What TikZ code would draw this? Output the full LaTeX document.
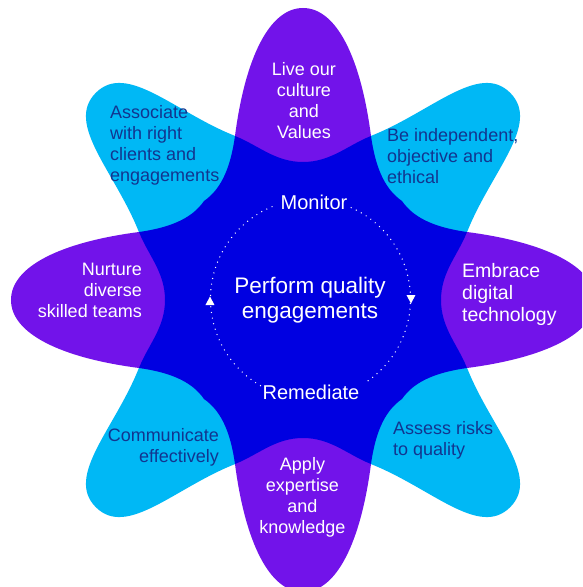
\documentclass[tikz,border=0pt]{standalone}
\usepackage{fontspec}
\setmainfont{Liberation Sans}
\definecolor{pviolet}{HTML}{7213EA}
\definecolor{pblue}{HTML}{00B8F5}
\definecolor{pdark}{HTML}{0000E1}
\definecolor{pnavy}{HTML}{12358F}
\newcommand\violetoutline{(-68,164) .. controls (-58,241) and (-34,292) .. (0,292) .. controls (34,292) and (58,241) .. (68,164) -- (0,0) -- cycle}
\newcommand\blueoutline{(-68,164) .. controls (-42,224) and (-44,293) .. (0,293) .. controls (44,293) and (42,224) .. (68,164) -- (0,0) -- cycle}
\begin{document}
\begin{tikzpicture}[x=1pt,y=1pt,
  ptext/.style={inner sep=0pt, font=\fontsize{18}{21}\selectfont},
  bigtext/.style={inner sep=0pt, font=\fontsize{19.5}{22}\selectfont},
  ctext/.style={inner sep=0pt, font=\fontsize{22.5}{25.5}\selectfont, text=white},
  ltext/.style={inner sep=0pt, font=\fontsize{20}{24}\selectfont, text=white},
  dotline/.style={white, line width=1.4pt, line cap=round, dash pattern=on 0pt off 5.7pt}]
\useasboundingbox (-303,-287) rectangle (279,300);
\fill[white] (-303,-287) rectangle (279,300);
\clip (-303,-287) rectangle (279,300);
% blue petals
\foreach \a in {45,135,225,315}{
  \begin{scope}[rotate=\a]
    \fill[pblue] \blueoutline;
  \end{scope}
}
% violet petals
\foreach \a in {0,90,180,270}{
  \begin{scope}[rotate=\a]
    \fill[pviolet] \violetoutline;
  \end{scope}
}
% dark star
\fill[pdark] (0,138) .. controls (-28,138) and (-45,155) .. (-68,164) .. controls (-72,136) and (-80,112) .. (-99,99) .. controls (-112,80) and (-136,72) .. (-164,68) .. controls (-155,45) and (-138,28) .. (-138,0)
  .. controls (-138,-28) and (-155,-45) .. (-164,-68) .. controls (-136,-72) and (-112,-80) .. (-99,-99) .. controls (-80,-112) and (-72,-136) .. (-68,-164) .. controls (-45,-155) and (-28,-138) .. (0,-138)
  .. controls (28,-138) and (45,-155) .. (68,-164) .. controls (72,-136) and (80,-112) .. (99,-99) .. controls (112,-80) and (136,-72) .. (164,-68) .. controls (155,-45) and (138,-28) .. (138,0)
  .. controls (138,28) and (155,45) .. (164,68) .. controls (136,72) and (112,80) .. (99,99) .. controls (80,112) and (72,136) .. (68,164) .. controls (45,155) and (28,138) .. (0,138) -- cycle;
% cycle
\coordinate (cyc) at (7.5,1);
\draw[dotline] ([shift={(66:100)}]cyc) arc[start angle=66, end angle=-58, radius=100];
\draw[dotline] ([shift={(-120:100)}]cyc) arc[start angle=-120, end angle=-248, radius=100];
\fill[white] (103.5,5) -- (112.5,5) -- (108,-3.5) -- cycle;
\fill[white] (-97.5,-5) -- (-88.5,-5) -- (-93,3.5) -- cycle;
% texts
\node[ctext, align=center] (perf) at (7,0) {Perform quality\\engagements};
\node[ltext] (mon) at (11,98) {Monitor};
\node[ltext] (rem) at (8,-92) {Remediate};
\node[ptext, text=white, align=center] (live) at (1,199) {Live our\\culture\\and\\Values};
\node[ptext, text=pnavy, align=left, anchor=west] (assoc) at (-193,155) {Associate\\with right\\clients and\\engagements};
\node[ptext, text=pnavy, align=left, anchor=west] (indep) at (84,143.5) {Be independent,\\objective and\\ethical};
\node[ptext, text=white, align=right, anchor=east] (nurture) at (-161,9.5) {Nurture\\diverse\\skilled teams};
\node[bigtext, text=white, align=left, anchor=west] (embrace) at (159,6) {Embrace\\digital\\technology};
\node[ptext, text=pnavy, align=right, anchor=east] (comm) at (-84,-147.5) {Communicate\\effectively};
\node[ptext, text=pnavy, align=left, anchor=west] (assess) at (90,-140) {Assess risks\\to quality};
\node[ptext, text=white, align=center] (apply) at (-0.5,-197.5) {Apply\\expertise\\and\\knowledge};
\end{tikzpicture}
\end{document}
